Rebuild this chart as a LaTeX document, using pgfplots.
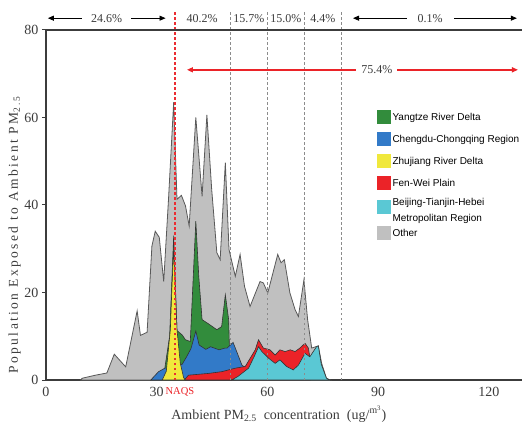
\documentclass[border=0pt]{standalone}
\usepackage{pgfplots}
\pgfplotsset{compat=1.18}
\usepackage{fontspec}
\setmainfont{Liberation Serif}
\newfontfamily\legfont{Liberation Sans}
\newfontfamily\spacedserif[LetterSpace=18]{Liberation Serif}
\usetikzlibrary{arrows.meta}
\definecolor{cgrey}{RGB}{192,192,192}
\definecolor{cgreen}{RGB}{50,140,60}
\definecolor{cblue}{RGB}{50,122,200}
\definecolor{cyellow}{RGB}{240,232,60}
\definecolor{cred}{RGB}{235,35,40}
\definecolor{ccyan}{RGB}{90,200,212}
\definecolor{dashgrey}{RGB}{140,140,140}
\definecolor{dashred}{RGB}{235,45,50}
\definecolor{txtgrey}{RGB}{60,60,60}
\begin{document}
\begin{tikzpicture}
\path[use as bounding box] (-46pt,-48pt) rectangle (478pt,380pt);
\begin{axis}[
  scale only axis, width=476pt, height=350pt,
  xmin=0, xmax=129, ymin=0, ymax=80,
  axis lines=left, axis line style={-, draw=txtgrey, line width=1.2pt},
  xtick={0,30,60,90,120}, ytick={0,20,40,60,80},
  xtick style={draw=none},
  ytick style={draw=txtgrey, line width=1pt},
  tick align=outside, major tick length=4pt,
  tick label style={font=\fontsize{14}{14}\selectfont, text=txtgrey},
  /pgf/number format/assume math mode=true,
  clip=false,
  xlabel={Ambient PM\textsubscript{2.5}\ \ concentration\ \ (ug/\textsuperscript{m\textsuperscript{3}})},
  every axis x label/.style={at={(rel axis cs:0.489,-0.097)}, anchor=center, font=\fontsize{14}{14}\selectfont, text=txtgrey},
  legend style={at={(rel axis cs:0.695,0.771)}, anchor=north west, draw=none, fill=none,
    font=\legfont\fontsize{10}{12}\selectfont, row sep=8pt, inner sep=0pt,
    nodes={inner sep=1.5pt}},
  legend cell align=left,
  legend image code/.code={\fill[#1, draw=none] (0pt,-7pt) rectangle (14pt,7pt);},
]
% Other (total)
\addplot[fill=cgrey, draw=black!65, line width=0.8pt, forget plot] coordinates {
(9.4,0) (9.8,0.4) (13.4,1.1) (16.5,1.6) (18.5,5.9) (21.6,3.0) (24.7,15.8) (25.6,10.2) (27.4,10.9) (28.7,30.6) (29.6,34.0) (30.7,32.6) (31.9,22.5) (33.2,41.3) (34.6,63.5) (35.5,41.3) (36.7,42.2) (37.8,39.8) (38.8,35.2) (40.6,60.0) (42.3,42.0) (43.6,60.6) (44.9,43.6) (46.3,29.1) (47.2,27.5) (48.6,49.7) (49.6,29.8) (51.3,23.7) (52.6,28.7) (53.8,21.4) (55.3,16.8) (58.0,22.5) (58.9,22.2) (60.1,19.9) (62.8,28.7) (63.7,26.8) (64.6,27.5) (66.1,19.9) (67.5,16.1) (68.4,14.5) (69.9,22.9) (70.9,13.8) (72.0,7.3) (73.8,7.8) (74.7,3.8) (76.0,0.4) (77,0)
} \closedcycle;
% Yangtze River Delta
\addplot[fill=cgreen, draw=black!80, line width=0.6pt, forget plot] coordinates {
(32.2,0) (32.2,2.7) (33.5,10) (34.6,33.0) (35.5,11.3) (36.9,10.3) (37.8,9.2) (39.1,8.8) (40.6,36.3) (41.4,23.7) (42.3,13.8) (44.1,12.8) (46.3,11.5) (47.6,12.2) (48.6,19.5) (49.5,13.8) (49.7,7.8) (49.8,0)
} \closedcycle;
% Chengdu-Chongqing
\addplot[fill=cblue, draw=black!80, line width=0.6pt, forget plot] coordinates {
(28.4,0) (30.5,1.9) (32.2,2.7) (35,3.2) (36.9,3.6) (38.1,5.3) (39.3,7.2) (40.6,11.2) (41.5,8.0) (43.3,7.0) (44.6,7.6) (46.9,6.9) (48.5,7.3) (49.1,7.3) (50.7,8.6) (52.0,5.8) (53.1,3.4) (54.1,2.8) (55,0)
} \closedcycle;
% Fen-Wei Plain
\addplot[fill=cred, draw=black!80, line width=0.6pt, forget plot] coordinates {
(37.5,0) (38.6,1.1) (44.0,1.5) (47.6,1.9) (51.3,2.7) (54.0,3.1) (56.7,6.9) (57.6,9.2) (58.9,7.3) (60.7,6.9) (62.1,5.7) (63.4,6.9) (64.8,6.5) (66.2,6.9) (67.5,6.5) (68.8,7.3) (70.2,8.4) (71.1,7.3) (71.5,5.3) (71.6,0)
} \closedcycle;
% Beijing-Tianjin-Hebei
\addplot[fill=ccyan, draw=black!80, line width=0.6pt, forget plot] coordinates {
(50.3,0) (52.0,0.8) (54.9,2.7) (56.5,5.5) (57.6,7.6) (58.5,6.5) (60.3,5.0) (62.1,3.8) (63.4,4.6) (65.2,3.1) (67.0,2.3) (68.4,3.4) (70.2,6.1) (71.5,5.3) (73.3,7.6) (73.8,7.8) (74.6,3.6) (76.0,0.4) (77,0)
} \closedcycle;
% Zhujiang River Delta
\addplot[fill=cyellow, draw=black!80, line width=0.6pt, forget plot] coordinates {
(31.5,0) (32.6,2.0) (33.7,11.5) (34.1,20.6) (34.6,30.0) (35.5,11.5) (36.4,3.8) (37.3,0.5) (37.8,0)
} \closedcycle;

\addlegendimage{fill=cgreen}\addlegendentry{Yangtze River Delta}
\addlegendimage{fill=cblue}\addlegendentry{Chengdu-Chongqing Region}
\addlegendimage{fill=cyellow}\addlegendentry{Zhujiang River Delta}
\addlegendimage{fill=cred}\addlegendentry{Fen-Wei Plain}
\addlegendimage{fill=ccyan}\addlegendentry{\rule[-10pt]{0pt}{23pt}\smash{\raisebox{-9pt}{\vbox{\baselineskip=16pt\hbox{Beijing-Tianjin-Hebei}\hbox{Metropolitan Region}}}}}
\addlegendimage{legend image code/.code={\path[draw=none, fill=none] (0pt,-7pt) -- (0pt,9.5pt); \fill[cgrey, draw=none] (0pt,-7pt) rectangle (14pt,7pt);}}\addlegendentry{Other}

% reference lines
\foreach \xv in {50,60,70,80} {
  \edef\tmp{\noexpand\draw[dashgrey, line width=1.3pt, dash pattern=on 2.5pt off 2.5pt] (axis cs:\xv,0) -- (axis cs:\xv,84);}\tmp
}
\draw[dashred, line width=1.3pt, dash pattern=on 2.5pt off 2.5pt] (axis cs:35,0) -- (axis cs:35,84);
% top frame line
\draw[txtgrey, line width=1.2pt] (rel axis cs:0,1) -- (rel axis cs:1,1);
% y label
\node[rotate=90, anchor=center, text=txtgrey, font=\fontsize{13.5}{13.5}\selectfont] at (rel axis cs:-0.066,0.414) {{\spacedserif Population Exposed to Ambient PM\textsubscript{2.5}}};
% NAQS label
\node[text=cred, font=\fontsize{10.5}{10.5}\selectfont] at (axis cs:36.3,-2.6) {NAQS};
% top percentages
\draw[{Triangle[length=6pt,width=5pt]}-{Triangle[length=6pt,width=5pt]}, line width=0.8pt]
  (axis cs:0.5,82.7) -- (axis cs:32.4,82.7) node[midway, fill=white, inner xsep=9pt, text=txtgrey, font=\fontsize{12}{12}\selectfont] {24.6\%};
\draw[{Triangle[length=6pt,width=5pt]}-{Triangle[length=6pt,width=5pt]}, line width=0.8pt]
  (axis cs:83.2,82.7) -- (axis cs:127.6,82.7) node[pos=0.47, fill=white, inner xsep=11pt, text=txtgrey, font=\fontsize{12}{12}\selectfont] {0.1\%};
\node[text=txtgrey, font=\fontsize{12}{12}\selectfont] at (axis cs:42.3,82.7) {40.2\%};
\node[text=txtgrey, font=\fontsize{12}{12}\selectfont] at (axis cs:55,82.7) {15.7\%};
\node[text=txtgrey, font=\fontsize{12}{12}\selectfont] at (axis cs:65,82.7) {15.0\%};
\node[text=txtgrey, font=\fontsize{12}{12}\selectfont] at (axis cs:75,82.7) {4.4\%};
% red arrow
\draw[cred, {Triangle[length=6pt,width=5pt]}-{Triangle[length=6pt,width=5pt]}, line width=1.4pt]
  (axis cs:38.2,70.9) -- (axis cs:127.9,70.9) node[pos=0.574, fill=white, inner xsep=5pt, text=txtgrey, font=\fontsize{12}{12}\selectfont] {75.4\%};
\end{axis}
\end{tikzpicture}
\end{document}
